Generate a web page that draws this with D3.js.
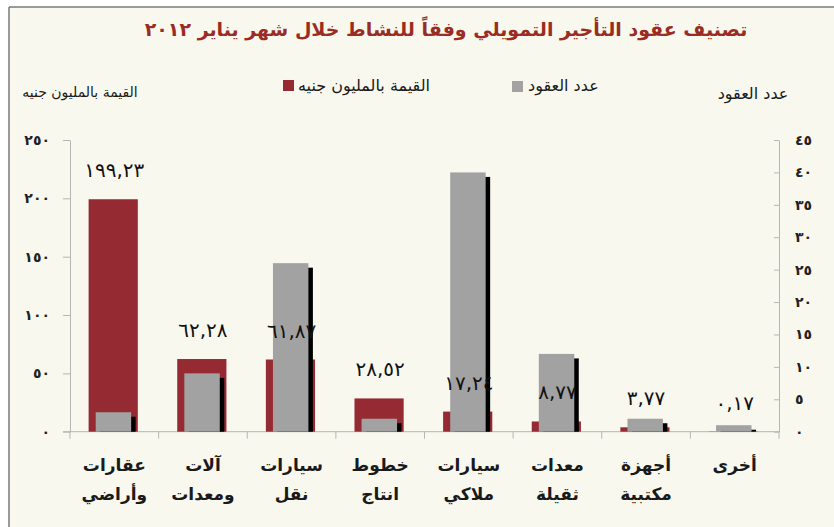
<!DOCTYPE html>
<html><head><meta charset="utf-8">
<script src="https://cdn.jsdelivr.net/npm/d3@7"></script>
<style>
html,body{margin:0;padding:0;background:#ffffff;}
svg{display:block;}
text{font-family:"DejaVu Sans",sans-serif;}
</style></head>
<body>
<svg id="chart" width="834" height="527"></svg>
<script>
const titleText = "تصنيف عقود التأجير التمويلي وفقاً للنشاط  خلال شهر يناير ٢٠١٢";
const categoriesLine1 = ["عقارات","آلات","سيارات","خطوط","سيارات","معدات","أجهزة","أخرى"];
const categoriesLine2 = ["وأراضي","ومعدات","نقل","انتاج","ملاكي","ثقيلة","مكتبية",""];
const valueMillions = [199.23, 62.28, 61.87, 28.52, 17.24, 8.77, 3.77, 0.17];
const valueLabels = ["١٩٩,٢٣","٦٢,٢٨","٦١,٨٧","٢٨,٥٢","١٧,٢٤","٨,٧٧","٣,٧٧","٠,١٧"];
const contractCounts = [3, 9, 26, 2, 40, 12, 2, 1];
const leftTicks = [0, 50, 100, 150, 200, 250];
const rightTicks = [0, 5, 10, 15, 20, 25, 30, 35, 40, 45];
const legendNames = ["القيمة بالمليون جنيه", "عدد العقود"];
const leftAxisTitle = "القيمة بالمليون جنيه";
const rightAxisTitle = "عدد العقود";

const toArabic = n => String(n).replace(/\d/g, d => "٠١٢٣٤٥٦٧٨٩"[+d]);

const svg = d3.select("#chart");
const W = 834, H = 527;
const plot = {left: 70, right: 779, top: 140, bottom: 431.7};

// background panel with top/left border
svg.append("rect").attr("x", 9).attr("y", 7).attr("width", W - 9).attr("height", H - 7).attr("fill", "#f8f8ef");
svg.append("line").attr("x1", 9).attr("x2", W).attr("y1", 7).attr("y2", 7).attr("stroke", "#7a7a7a").attr("stroke-width", 1.5);
svg.append("line").attr("x1", 9).attr("x2", 9).attr("y1", 7).attr("y2", H).attr("stroke", "#7a7a7a").attr("stroke-width", 1.5);

const x = d3.scaleBand().domain(d3.range(categoriesLine1.length)).range([plot.left, plot.right]).padding(0);
const yL = d3.scaleLinear().domain([0, 250]).range([plot.bottom, plot.top]);
const yR = d3.scaleLinear().domain([0, 45]).range([plot.bottom, plot.top]);
const bw = x.bandwidth();

// title
svg.append("text").attr("x", 446).attr("y", 36).attr("text-anchor", "middle")
  .attr("direction", "rtl")
  .attr("font-size", 19).attr("font-weight", "bold").attr("fill", "#9b2c24")
  .text(titleText);

// axis titles
svg.append("text").attr("x", 80).attr("y", 97).attr("text-anchor", "middle")
  .attr("font-size", 14).attr("fill", "#1a1a1a").text(leftAxisTitle);
svg.append("text").attr("x", 753).attr("y", 99).attr("text-anchor", "middle")
  .attr("font-size", 16).attr("fill", "#1a1a1a").text(rightAxisTitle);

// legend
const legend = svg.append("g");
legend.append("rect").attr("x", 283).attr("y", 80).attr("width", 11).attr("height", 11).attr("fill", "#962a33");
legend.append("text").attr("x", 298).attr("y", 91).attr("text-anchor", "start").attr("font-size", 16).attr("fill", "#1a1a1a").text(legendNames[0]);
legend.append("rect").attr("x", 512).attr("y", 81).attr("width", 11).attr("height", 11).attr("fill", "#a2a2a2");
legend.append("text").attr("x", 528).attr("y", 91).attr("text-anchor", "start").attr("font-size", 16).attr("fill", "#1a1a1a").text(legendNames[1]);

// left axis
const gL = svg.append("g").attr("transform", `translate(${plot.left},0)`)
  .call(d3.axisLeft(yL).tickValues(leftTicks).tickSize(7).tickSizeOuter(0).tickFormat(toArabic));
gL.select(".domain").attr("stroke", "#b5b5b5");
gL.selectAll(".tick line").attr("stroke", "#b5b5b5");
gL.selectAll(".tick text").attr("x", -20).attr("font-size", 14).attr("font-weight", "bold").attr("fill", "#222")
  .style("font-family", "DejaVu Sans");

// right axis
const gR = svg.append("g").attr("transform", `translate(${plot.right},0)`)
  .call(d3.axisRight(yR).tickValues(rightTicks).tickSize(0).tickSizeOuter(0).tickFormat(toArabic));
gR.select(".domain").attr("stroke", "#b5b5b5");
gR.selectAll(".tick line").attr("x1", -5).attr("x2", 0).attr("stroke", "#b5b5b5");
gR.selectAll(".tick text").attr("x", 16).attr("font-size", 14).attr("font-weight", "bold").attr("fill", "#222")
  .attr("text-anchor", "start").style("font-family", "DejaVu Sans");

// x axis line & category boundary ticks
svg.append("line").attr("x1", plot.left - 7).attr("x2", plot.right).attr("y1", plot.bottom).attr("y2", plot.bottom).attr("stroke", "#b5b5b5");
const boundaries = d3.range(categoriesLine1.length + 1);
svg.append("g").selectAll("line").data(boundaries).join("line")
  .attr("x1", i => i < categoriesLine1.length ? x(i) : plot.right)
  .attr("x2", i => i < categoriesLine1.length ? x(i) : plot.right)
  .attr("y1", plot.bottom).attr("y2", plot.bottom + 7).attr("stroke", "#b5b5b5");

const idx = d3.range(categoriesLine1.length);

// red bars (value)
svg.append("g").selectAll("rect").data(idx).join("rect")
  .attr("x", i => x(i) + bw * 0.21).attr("width", bw * 0.555)
  .attr("y", i => yL(valueMillions[i])).attr("height", i => plot.bottom - yL(valueMillions[i]))
  .attr("fill", "#962a33");

// shadow for gray bars
const sh = 4.5;
svg.append("g").selectAll("rect").data(idx).join("rect")
  .attr("x", i => x(i) + bw * 0.29 + sh).attr("width", bw * 0.40)
  .attr("y", i => Math.min(yR(contractCounts[i]) + sh, plot.bottom))
  .attr("height", i => Math.max(plot.bottom - yR(contractCounts[i]) - sh, 0))
  .attr("fill", "#000");

// gray bars (count)
svg.append("g").selectAll("rect").data(idx).join("rect")
  .attr("x", i => x(i) + bw * 0.29).attr("width", bw * 0.40)
  .attr("y", i => yR(contractCounts[i])).attr("height", i => plot.bottom - yR(contractCounts[i]))
  .attr("fill", "#a2a2a2");

// value labels
svg.append("g").selectAll("text").data(idx).join("text")
  .attr("x", i => x(i) + bw / 2).attr("y", i => yL(valueMillions[i]) - 22)
  .attr("text-anchor", "middle").attr("font-size", 20).attr("fill", "#111")
  .text(i => valueLabels[i]);

// category labels
const cl = svg.append("g");
cl.selectAll("text.l1").data(idx).join("text").attr("class", "l1")
  .attr("x", i => x(i) + bw / 2).attr("y", 471).attr("text-anchor", "middle")
  .attr("font-size", 17).attr("font-weight", "bold").attr("fill", "#1a1a1a").text(i => categoriesLine1[i]);
cl.selectAll("text.l2").data(idx).join("text").attr("class", "l2")
  .attr("x", i => x(i) + bw / 2).attr("y", 500).attr("text-anchor", "middle")
  .attr("font-size", 17).attr("font-weight", "bold").attr("fill", "#1a1a1a").text(i => categoriesLine2[i]);
</script>
</body></html>
